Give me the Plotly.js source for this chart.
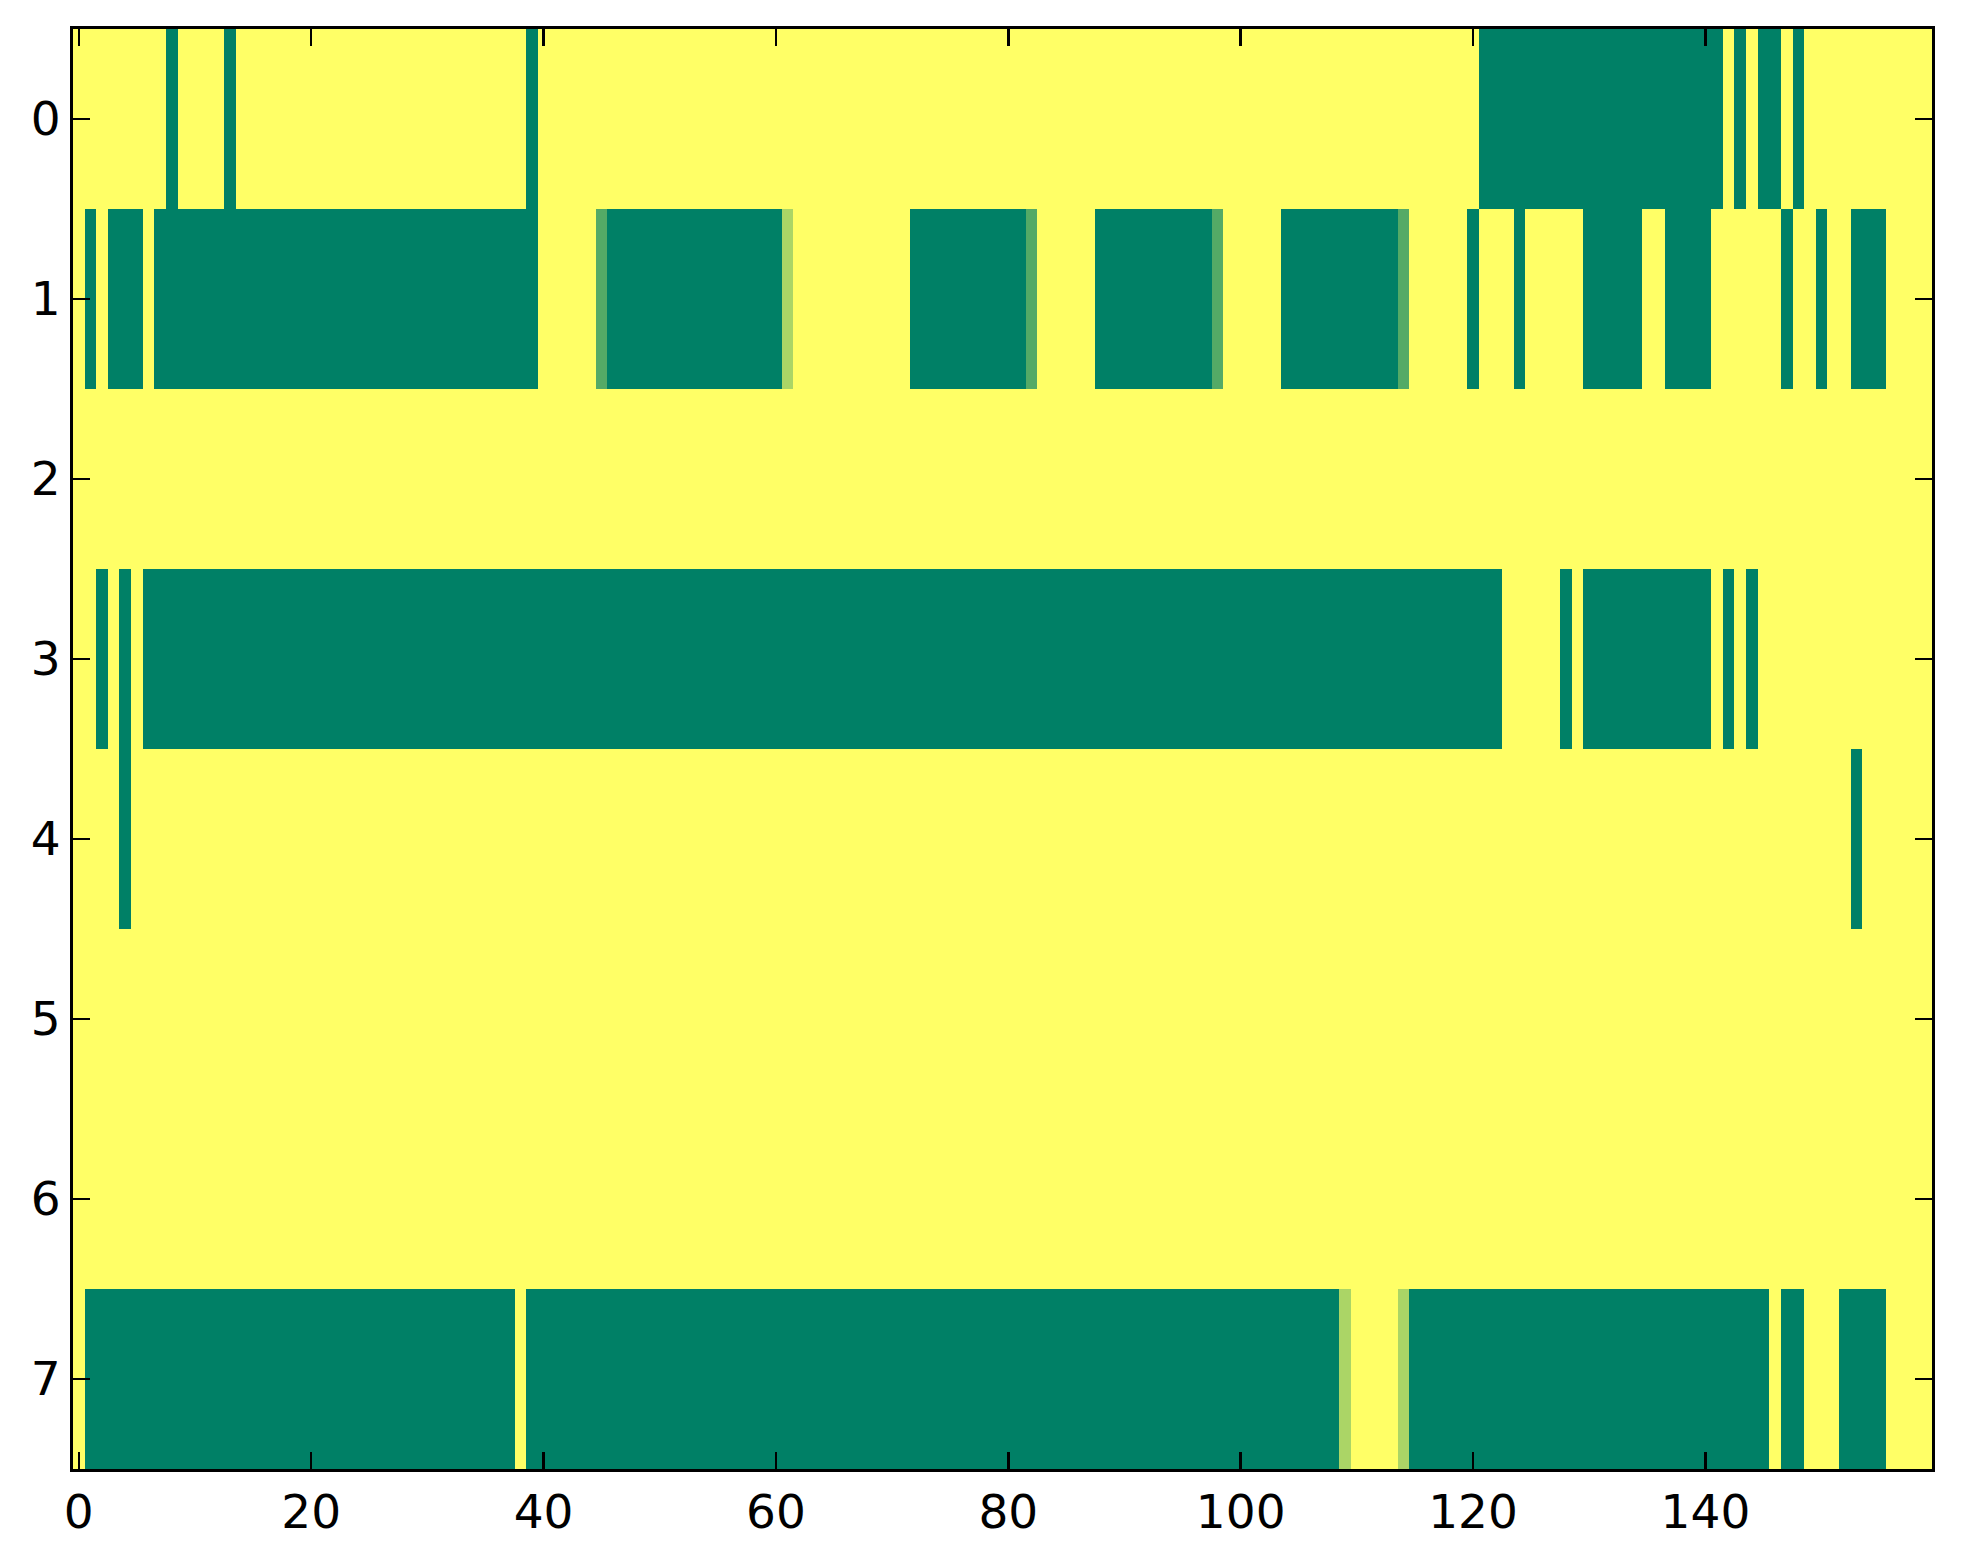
<!DOCTYPE html>
<html>
<head>
<meta charset="utf-8">
<script src="https://cdn.plot.ly/plotly-3.0.1.min.js"></script>
<style>html,body{margin:0;padding:0;background:#fff;}#chart{width:1963px;height:1564px;}</style>
</head>
<body>
<div id="chart"></div>
<script>
// Cell values (1 = yellow, 0 = dark green, fractions = intermediate)
var row0 = [
1,1,1,1,1,1,1,1,0,1, 1,1,1,0,1,1,1,1,1,1, 1,1,1,1,1,1,1,1,1,1, 1,1,1,1,1,1,1,1,1,0,
1,1,1,1,1,1,1,1,1,1, 1,1,1,1,1,1,1,1,1,1, 1,1,1,1,1,1,1,1,1,1, 1,1,1,1,1,1,1,1,1,1,
1,1,1,1,1,1,1,1,1,1, 1,1,1,1,1,1,1,1,1,1, 1,1,1,1,1,1,1,1,1,1, 1,1,1,1,1,1,1,1,1,1,
1,0,0,0,0,0,0,0,0,0, 0,0,0,0,0,0,0,0,0,0, 0,0,1,0,1,0,0,1,0,1, 1,1,1,1,1,1,1,1,1,1
];
var row1 = [
1,0,1,0,0,0,1,0,0,0, 0,0,0,0,0,0,0,0,0,0, 0,0,0,0,0,0,0,0,0,0, 0,0,0,0,0,0,0,0,0,0,
1,1,1,1,1,0.33,0,0,0,0, 0,0,0,0,0,0,0,0,0,0, 0,0.67,1,1,1,1,1,1,1,1, 1,1,0,0,0,0,0,0,0,0,
0,0,0.33,1,1,1,1,1,0,0, 0,0,0,0,0,0,0,0,0.33,1, 1,1,1,1,0,0,0,0,0,0, 0,0,0,0,0.33,1,1,1,1,1,
0,1,1,1,0,1,1,1,1,1, 0,0,0,0,0,1,1,0,0,0, 0,1,1,1,1,1,1,0,1,1, 0,1,1,0,0,0,1,1,1,1
];
var row2 = [
1,1,1,1,1,1,1,1,1,1, 1,1,1,1,1,1,1,1,1,1, 1,1,1,1,1,1,1,1,1,1, 1,1,1,1,1,1,1,1,1,1,
1,1,1,1,1,1,1,1,1,1, 1,1,1,1,1,1,1,1,1,1, 1,1,1,1,1,1,1,1,1,1, 1,1,1,1,1,1,1,1,1,1,
1,1,1,1,1,1,1,1,1,1, 1,1,1,1,1,1,1,1,1,1, 1,1,1,1,1,1,1,1,1,1, 1,1,1,1,1,1,1,1,1,1,
1,1,1,1,1,1,1,1,1,1, 1,1,1,1,1,1,1,1,1,1, 1,1,1,1,1,1,1,1,1,1, 1,1,1,1,1,1,1,1,1,1
];
var row3 = [
1,1,0,1,0,1,0,0,0,0, 0,0,0,0,0,0,0,0,0,0, 0,0,0,0,0,0,0,0,0,0, 0,0,0,0,0,0,0,0,0,0,
0,0,0,0,0,0,0,0,0,0, 0,0,0,0,0,0,0,0,0,0, 0,0,0,0,0,0,0,0,0,0, 0,0,0,0,0,0,0,0,0,0,
0,0,0,0,0,0,0,0,0,0, 0,0,0,0,0,0,0,0,0,0, 0,0,0,0,0,0,0,0,0,0, 0,0,0,0,0,0,0,0,0,0,
0,0,0,1,1,1,1,1,0,1, 0,0,0,0,0,0,0,0,0,0, 0,1,0,1,0,1,1,1,1,1, 1,1,1,1,1,1,1,1,1,1
];
var row4 = [
1,1,1,1,0,1,1,1,1,1, 1,1,1,1,1,1,1,1,1,1, 1,1,1,1,1,1,1,1,1,1, 1,1,1,1,1,1,1,1,1,1,
1,1,1,1,1,1,1,1,1,1, 1,1,1,1,1,1,1,1,1,1, 1,1,1,1,1,1,1,1,1,1, 1,1,1,1,1,1,1,1,1,1,
1,1,1,1,1,1,1,1,1,1, 1,1,1,1,1,1,1,1,1,1, 1,1,1,1,1,1,1,1,1,1, 1,1,1,1,1,1,1,1,1,1,
1,1,1,1,1,1,1,1,1,1, 1,1,1,1,1,1,1,1,1,1, 1,1,1,1,1,1,1,1,1,1, 1,1,1,0,1,1,1,1,1,1
];
var row5 = [
1,1,1,1,1,1,1,1,1,1, 1,1,1,1,1,1,1,1,1,1, 1,1,1,1,1,1,1,1,1,1, 1,1,1,1,1,1,1,1,1,1,
1,1,1,1,1,1,1,1,1,1, 1,1,1,1,1,1,1,1,1,1, 1,1,1,1,1,1,1,1,1,1, 1,1,1,1,1,1,1,1,1,1,
1,1,1,1,1,1,1,1,1,1, 1,1,1,1,1,1,1,1,1,1, 1,1,1,1,1,1,1,1,1,1, 1,1,1,1,1,1,1,1,1,1,
1,1,1,1,1,1,1,1,1,1, 1,1,1,1,1,1,1,1,1,1, 1,1,1,1,1,1,1,1,1,1, 1,1,1,1,1,1,1,1,1,1
];
var row6 = [
1,1,1,1,1,1,1,1,1,1, 1,1,1,1,1,1,1,1,1,1, 1,1,1,1,1,1,1,1,1,1, 1,1,1,1,1,1,1,1,1,1,
1,1,1,1,1,1,1,1,1,1, 1,1,1,1,1,1,1,1,1,1, 1,1,1,1,1,1,1,1,1,1, 1,1,1,1,1,1,1,1,1,1,
1,1,1,1,1,1,1,1,1,1, 1,1,1,1,1,1,1,1,1,1, 1,1,1,1,1,1,1,1,1,1, 1,1,1,1,1,1,1,1,1,1,
1,1,1,1,1,1,1,1,1,1, 1,1,1,1,1,1,1,1,1,1, 1,1,1,1,1,1,1,1,1,1, 1,1,1,1,1,1,1,1,1,1
];
var row7 = [
1,0,0,0,0,0,0,0,0,0, 0,0,0,0,0,0,0,0,0,0, 0,0,0,0,0,0,0,0,0,0, 0,0,0,0,0,0,0,0,1,0,
0,0,0,0,0,0,0,0,0,0, 0,0,0,0,0,0,0,0,0,0, 0,0,0,0,0,0,0,0,0,0, 0,0,0,0,0,0,0,0,0,0,
0,0,0,0,0,0,0,0,0,0, 0,0,0,0,0,0,0,0,0,0, 0,0,0,0,0,0,0,0,0,0.67, 1,1,1,1,0.67,0,0,0,0,0,
0,0,0,0,0,0,0,0,0,0, 0,0,0,0,0,0,0,0,0,0, 0,0,0,0,0,0,1,0,0,1, 1,1,0,0,0,0,1,1,1,1
];
var rowLabels = [0,1,2,3,4,5,6,7];
var xTicks = [0,20,40,60,80,100,120,140];

var z = [row0,row1,row2,row3,row4,row5,row6,row7];
var cols = [];
for (var i = 0; i < row0.length; i++) cols.push(i);

var trace = {
  type: 'heatmap',
  z: z,
  x: cols,
  y: rowLabels,
  zmin: 0, zmax: 1,
  colorscale: [[0,'rgb(0,128,102)'],[1,'rgb(255,255,102)']],
  showscale: false,
  hoverinfo: 'x+y+z'
};

var axisCommon = {
  showline: true, linecolor: '#000', linewidth: 3, mirror: 'ticks',
  ticks: 'inside', ticklen: 17, tickwidth: 2.5, tickcolor: '#000',
  showgrid: false, zeroline: false,
  tickfont: {family: 'DejaVu Sans', size: 47, color: '#000'}
};

var layout = {
  width: 1963, height: 1564,
  margin: {l: 73, r: 31, t: 29, b: 95},
  paper_bgcolor: '#fff', plot_bgcolor: '#fff',
  xaxis: Object.assign({}, axisCommon, {range: [-0.5, 159.5], tickmode: 'array', tickvals: xTicks, ticktext: xTicks.map(String)}),
  yaxis: Object.assign({}, axisCommon, {range: [7.5, -0.5], tickmode: 'array', tickvals: rowLabels, ticktext: rowLabels.map(String)})
};

Plotly.newPlot('chart', [trace], layout, {displayModeBar: false, staticPlot: true});
</script>
</body>
</html>
